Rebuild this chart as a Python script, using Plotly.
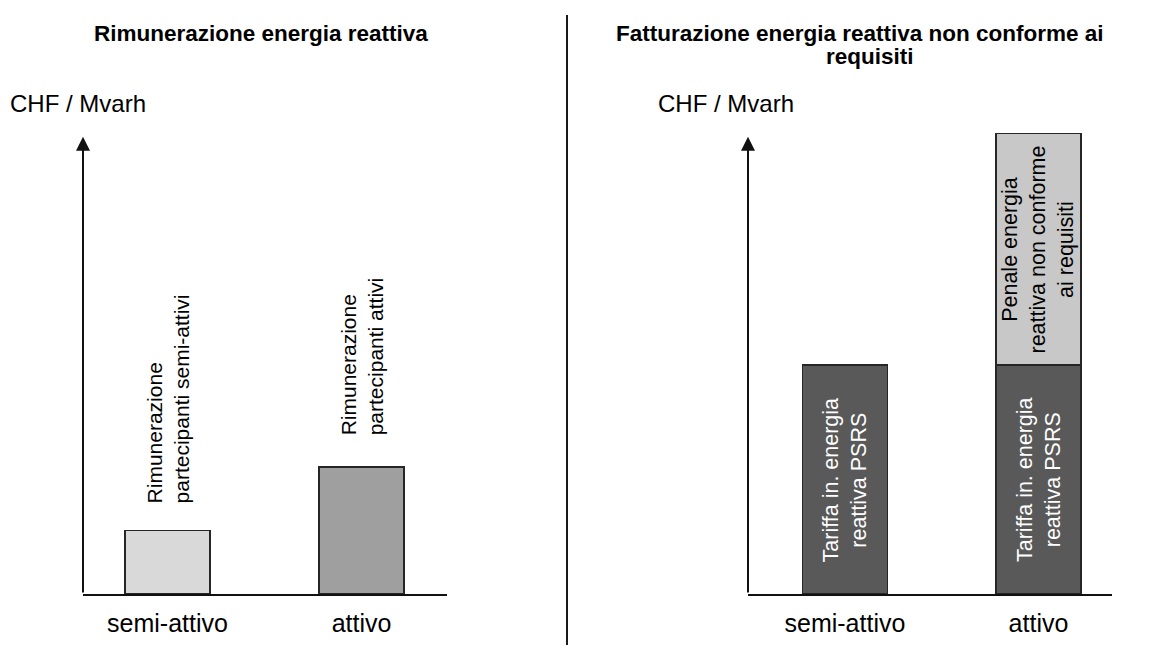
import plotly.graph_objects as go

# ---------------- data ----------------
categories = ["semi-attivo", "attivo"]

# left panel: remuneration (relative CHF / Mvarh)
rimunerazione_values = [1.0, 2.0]
rimunerazione_labels = ["Rimunerazione<br>partecipanti semi-attivi",
                        "Rimunerazione<br>partecipanti attivi"]

# right panel: billing (stacked)
tariffa_values = [3.6, 3.6]
penale_values = [None, 3.65]
tariffa_label = "Tariffa in. energia<br>reattiva PSRS"
penale_label = "Penale energia<br>reattiva non conforme<br>ai requisiti"

title_left = "Rimunerazione energia reattiva"
title_right_1 = "Fatturazione energia reattiva non conforme ai"
title_right_2 = "requisiti"
y_unit_label = "CHF / Mvarh"

# ---------------- styling ----------------
PAGE_W, PAGE_H = 1161, 653
OFF = 8  # default page body margin
W, H = PAGE_W - 2 * OFF, PAGE_H - 2 * OFF
FONT = "Liberation Sans, Arial, sans-serif"
EDGE = "#262626"
Y_MAX = 7.25
ARROW_TIP = 7.19


def px_x(p):
    return (p - OFF) / W


def px_y(p):
    return (H - (p - OFF)) / H


fig = go.Figure()

fig.add_trace(go.Bar(
    x=categories, y=rimunerazione_values,
    marker=dict(color=["#d9d9d9", "#9f9f9f"], line=dict(color=EDGE, width=1.5)),
    width=0.438, xaxis="x", yaxis="y", showlegend=False, hoverinfo="skip",
))
fig.add_trace(go.Bar(
    x=categories, y=tariffa_values,
    marker=dict(color="#595959", line=dict(color=EDGE, width=1.5)),
    width=0.439, xaxis="x2", yaxis="y2", showlegend=False, hoverinfo="skip",
))
fig.add_trace(go.Bar(
    x=categories, y=penale_values,
    marker=dict(color="#c8c8c8", line=dict(color=EDGE, width=1.5)),
    width=0.439, xaxis="x2", yaxis="y2", showlegend=False, hoverinfo="skip",
))

y_dom = [px_y(594), px_y(133)]
axis_common = dict(showgrid=False, zeroline=False, ticks="",
                   showline=True, linecolor="#111111", linewidth=2,
                   ticklabelstandoff=6,
                   tickfont=dict(family=FONT, size=25, color="#000000"))
fig.update_layout(
    width=W, height=H, autosize=False,
    margin=dict(l=0, r=0, t=0, b=0),
    paper_bgcolor="white", plot_bgcolor="white",
    barmode="stack",
    font=dict(family=FONT, color="#000000"),
    xaxis=dict(domain=[px_x(83), px_x(447)], range=[-0.4356, 1.4407],
               type="category", anchor="y", **axis_common),
    xaxis2=dict(domain=[px_x(748), px_x(1112)], range=[-0.501, 1.380],
                type="category", anchor="y2", **axis_common),
    yaxis=dict(domain=y_dom, range=[0, Y_MAX], visible=False, anchor="x"),
    yaxis2=dict(domain=y_dom, range=[0, Y_MAX], visible=False, anchor="x2"),
)

ann = []
# vertical axis arrows
for xr, yr in (("x", "y"), ("x2", "y2")):
    ann.append(dict(xref=xr + " domain", x=0, yref=yr, y=ARROW_TIP,
                    axref="pixel", ax=0, ayref=yr, ay=0,
                    showarrow=True, arrowhead=2, arrowsize=1.4, arrowwidth=2,
                    arrowcolor="#111111", text=""))

# left rotated labels above bars
shifts = [25, 29]
for cat, val, lab, sh in zip(categories, rimunerazione_values, rimunerazione_labels, shifts):
    ann.append(dict(xref="x", x=cat, yref="y", y=val, yanchor="bottom", xanchor="center",
                    yshift=sh, textangle=-90, align="left", showarrow=False, text=lab,
                    font=dict(family=FONT, size=21, color="#000000")))

# right rotated labels inside bars
for cat, val in zip(categories, tariffa_values):
    ann.append(dict(xref="x2", x=cat, yref="y2", y=val / 2, yanchor="middle", xanchor="center",
                    textangle=-90, align="center", showarrow=False, text=tariffa_label,
                    font=dict(family=FONT, size=21.5, color="#ffffff")))
ann.append(dict(xref="x2", x=categories[1], yref="y2", y=tariffa_values[1] + penale_values[1] / 2,
                yanchor="middle", xanchor="center", textangle=-90, align="center",
                showarrow=False, text=penale_label,
                font=dict(family=FONT, size=21.5, color="#000000")))

# titles
ann.append(dict(xref="paper", yref="paper", x=px_x(261), y=px_y(33), xanchor="center",
                yanchor="middle", showarrow=False, text="<b>" + title_left + "</b>",
                font=dict(family=FONT, size=22.5)))
ann.append(dict(xref="paper", yref="paper", x=px_x(860), y=px_y(33), xanchor="center",
                yanchor="middle", showarrow=False, text="<b>" + title_right_1 + "</b>",
                font=dict(family=FONT, size=22.5)))
ann.append(dict(xref="paper", yref="paper", x=px_x(870), y=px_y(57), xanchor="center",
                yanchor="middle", showarrow=False, text="<b>" + title_right_2 + "</b>",
                font=dict(family=FONT, size=22.5)))
# unit labels
for xp in (OFF, 656):
    ann.append(dict(xref="paper", yref="paper", x=px_x(xp), y=px_y(104), xanchor="left",
                    yanchor="middle", showarrow=False, text=y_unit_label,
                    font=dict(family=FONT, size=24)))

fig.update_layout(annotations=ann)

# divider line between panels
fig.add_shape(type="line", xref="paper", yref="paper",
              x0=px_x(567), x1=px_x(567), y0=0, y1=px_y(15),
              line=dict(color="#1a1a1a", width=2))

fig.write_html("out.html")
